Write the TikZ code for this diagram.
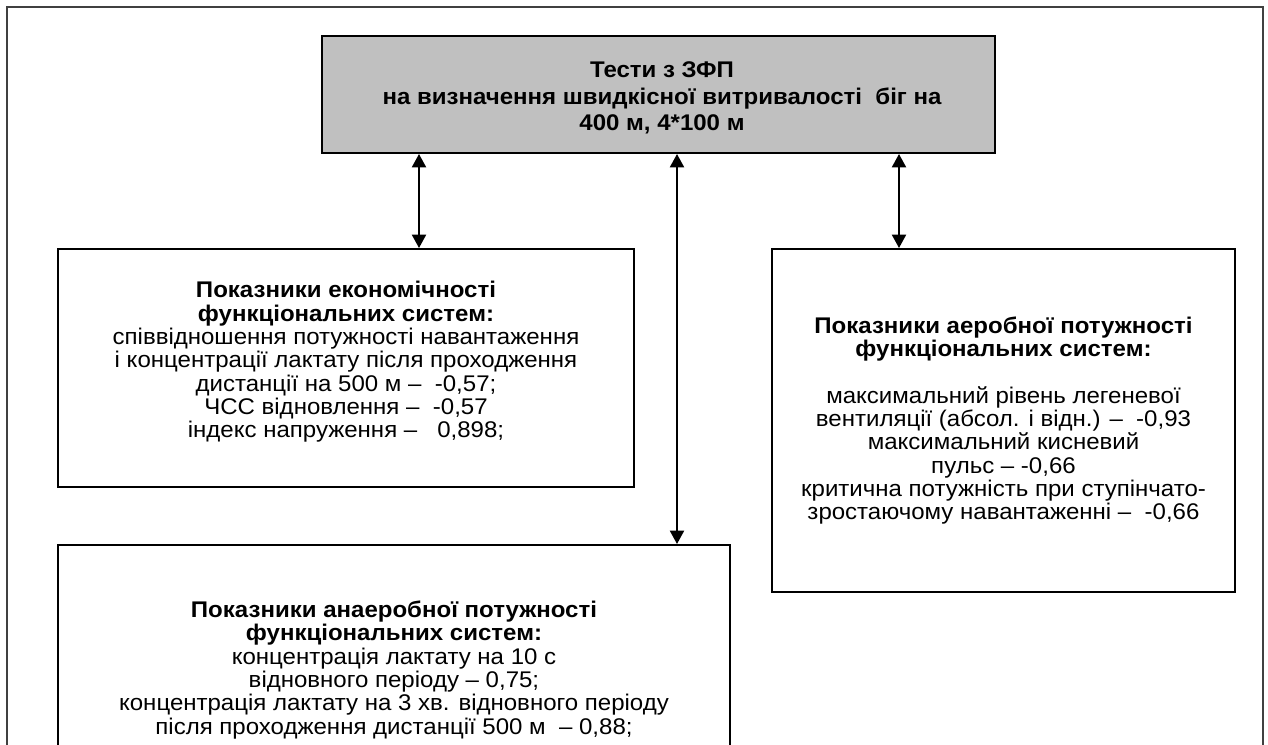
\documentclass[tikz,border=0pt]{standalone}
\usepackage{fontspec}
\setmainfont{Liberation Sans}[FakeStretch=1.06]
\usetikzlibrary{arrows.meta}
\begin{document}
\begin{tikzpicture}[x=0.75pt,y=-0.75pt,
  box/.style={draw=black, line width=1.5pt, align=center, inner sep=0pt,
    font=\fontsize{17}{17.5}\selectfont},
  topbox/.style={box, fill=topgray, font=\fontsize{17}{19.9}\selectfont\bfseries},
  conn/.style={line width=1.5pt, {Triangle[length=10pt,width=10.5pt]}-{Triangle[length=10pt,width=10.5pt]}},
  frame/.style={draw=black!75, line width=1.1pt}]
\definecolor{topgray}{HTML}{C0C0C0}
\useasboundingbox (0,0) rectangle (1268,744);
\clip (0,0) rectangle (1268,744);

\draw[frame] (7,7) rectangle (1263,800);

\node[topbox, minimum width=504.75pt, minimum height=87.75pt] (top) at (658.5,94.5) {};
\node[topbox, draw=none, fill=none, anchor=center] (toptext) at (662,98)
  {Тести з ЗФП\\ на визначення швидкісної витривалості\ \ біг на\\ 400 м, 4*100 м};

\node[box, minimum width=432pt, minimum height=178.5pt] (econ) at (346,368) {};
\node[box, draw=none] (econtext) at (346,362)
  {\textbf{Показники економічності}\\ \textbf{функціональних систем:}\\
   співвідношення потужності навантаження\\
   і концентрації лактату після проходження\\
   дистанції на 500 м –\ \ -0,57;\\
   ЧСС відновлення –\ \ -0,57\\
   індекс напруження –\ \ \ 0,898;};

\node[box, minimum width=347.25pt, minimum height=257.25pt] (aero) at (1003.5,420.5)
  {\textbf{Показники аеробної потужності}\\ \textbf{функціональних систем:}\\[17.5pt]
   максимальний рівень легеневої\\
   вентиляції (абсол. і відн.) –\ \ -0,93\\
   максимальний кисневий\\
   пульс – -0,66\\
   критична потужність при ступінчато-\\
   зростаючому навантаженні –\ \ -0,66};

\node[box, minimum width=504pt, minimum height=187.5pt] (anaero) at (394,670)
  {\textbf{Показники анаеробної потужності}\\ \textbf{функціональних систем:}\\
   концентрація лактату на 10 с\\
   відновного періоду – 0,75;\\
   концентрація лактату на 3 хв. відновного періоду\\
   після проходження дистанції 500 м\ \ – 0,88;};

\coordinate (la) at (419,0);
\coordinate (ma) at (677,0);
\coordinate (ra) at (899,0);
\draw[conn] (top.south -| la) -- (econ.north -| la);
\draw[conn] (top.south -| ma) -- (anaero.north -| ma);
\draw[conn] (top.south -| ra) -- (aero.north -| ra);
\end{tikzpicture}
\end{document}
